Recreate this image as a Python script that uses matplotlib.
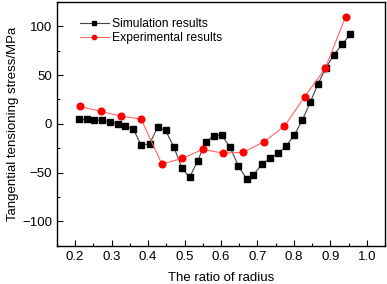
import matplotlib
matplotlib.use("Agg")
import matplotlib.pyplot as plt
from matplotlib.ticker import MultipleLocator

plt.rcParams['font.family'] = ['Liberation Sans', 'DejaVu Sans']

sim_x = [0.211, 0.232, 0.253, 0.274, 0.295, 0.317, 0.338, 0.360, 0.381, 0.404,
         0.426, 0.448, 0.471, 0.493, 0.514, 0.536, 0.558, 0.580, 0.602, 0.625,
         0.648, 0.670, 0.689, 0.712, 0.734, 0.757, 0.778, 0.801, 0.823, 0.845,
         0.866, 0.887, 0.910, 0.933, 0.954]
sim_y = [4.5, 4.5, 4.1, 3.5, 2.0, 0.0, -2.4, -5.7, -21.8, -20.7,
         -3.7, -6.7, -24.1, -45.6, -54.8, -38.1, -18.7, -12.3, -11.6, -24.1,
         -43.3, -56.2, -52.5, -41.5, -35.4, -30.0, -23.1, -11.6, 3.8, 22.2,
         40.9, 57.0, 71.0, 81.8, 91.7]

exp_x = [0.214, 0.271, 0.326, 0.381, 0.438, 0.494, 0.550, 0.605, 0.661, 0.718,
         0.774, 0.830, 0.886, 0.942]
exp_y = [17.8, 12.7, 7.9, 4.8, -41.2, -35.4, -26.2, -30.0, -29.2, -18.4,
         -2.4, 28.0, 57.0, 110.1]

fig = plt.figure(figsize=(3.87, 2.84), dpi=100)
ax = fig.add_axes([0.147, 0.135, 0.848, 0.858])

ax.plot(sim_x, sim_y, color='#444444', lw=0.8, marker='s', ms=4.2,
        mfc='black', mec='black', label='Simulation results')
ax.plot(exp_x, exp_y, color='#ff6666', lw=0.8, marker='o', ms=4.8,
        mfc='#ff0000', mec='#ff0000', label='Experimental results')

ax.set_xlim(0.15, 1.05)
ax.set_ylim(-125, 125)
ax.xaxis.set_minor_locator(MultipleLocator(0.05))
ax.yaxis.set_major_locator(MultipleLocator(50))
ax.yaxis.set_minor_locator(MultipleLocator(25))
ax.set_xticks([0.2, 0.3, 0.4, 0.5, 0.6, 0.7, 0.8, 0.9, 1.0])
ax.set_xticklabels(['0.2', '0.3', '0.4', '0.5', '0.6', '0.7', '0.8', '0.9', '1.0'])
ax.tick_params(which='both', direction='in', top=False, right=False,
               labelsize=9.5, width=0.8)
ax.tick_params(which='major', length=4)
ax.tick_params(which='minor', length=2)
for s in ax.spines.values():
    s.set_linewidth(1.0)

ax.set_xlabel('The ratio of radius', fontsize=9.5, labelpad=7)
ax.set_ylabel('Tangential tensioning stress/MPa', fontsize=9.5, labelpad=2)

ax.legend(loc='upper left', frameon=False, fontsize=8.7, handlelength=2.4,
          handletextpad=0.3, borderaxespad=0.0, bbox_to_anchor=(0.055, 0.955),
          labelspacing=0.2, markerscale=0.65)

fig.savefig('out.png', dpi=100)
